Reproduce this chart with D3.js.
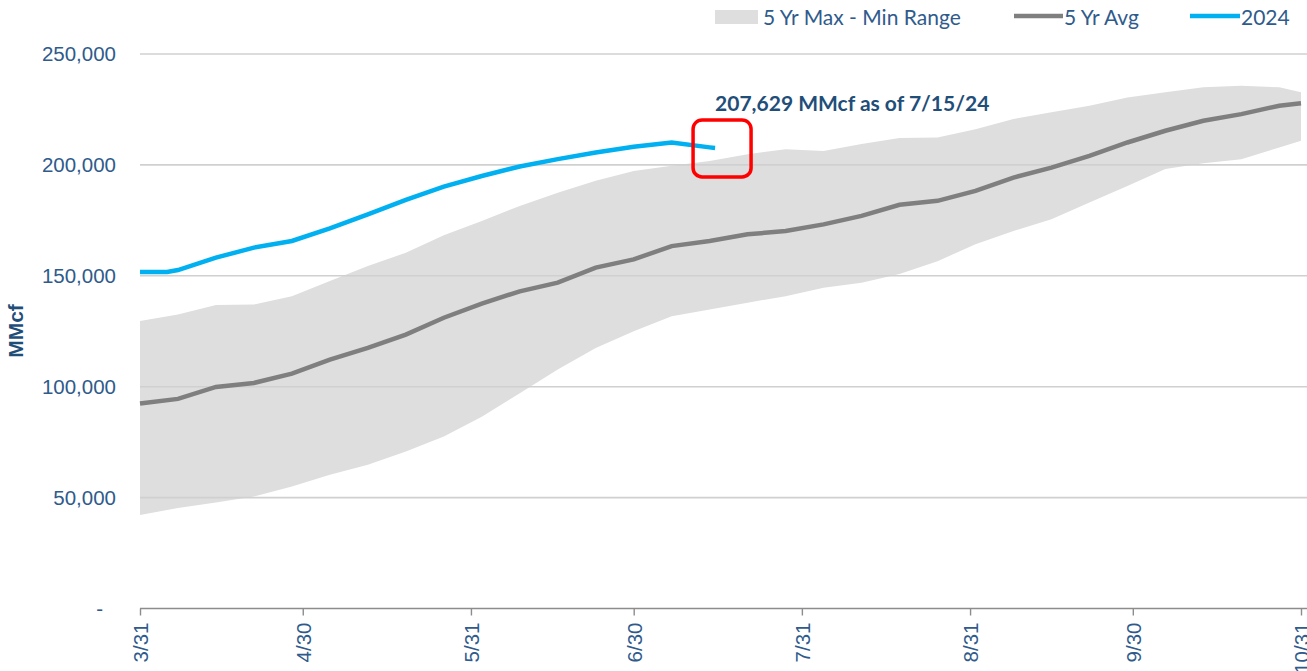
<!DOCTYPE html>
<html lang="en">
    <head>
        <meta charset="utf-8">
        <title>Storage vs 5 Yr Range</title>
        <script type="text/javascript" src="https://cdn.jsdelivr.net/npm/d3@7/dist/d3.min.js"></script>
        <style>
            body { margin: 0; background: #fff; }
            svg { display: block; }
        </style>
    </head>

    <body>
        <script type="text/javascript">

            // weekly dates for the 5 year range and average
            var week_dates = ["2024-03-31", "2024-04-07", "2024-04-14", "2024-04-21", "2024-04-28", "2024-05-05",
                              "2024-05-12", "2024-05-19", "2024-05-26", "2024-06-02", "2024-06-09", "2024-06-16",
                              "2024-06-23", "2024-06-30", "2024-07-07", "2024-07-14", "2024-07-21", "2024-07-28",
                              "2024-08-04", "2024-08-11", "2024-08-18", "2024-08-25", "2024-09-01", "2024-09-08",
                              "2024-09-15", "2024-09-22", "2024-09-29", "2024-10-06", "2024-10-13", "2024-10-20",
                              "2024-10-27", "2024-10-31"];

            // 5 yr max / min / avg (MMcf)
            var range_max = [129600, 132600, 136800, 137100, 140800, 147600, 154400, 160400, 168300, 174700, 181500, 187500,
                             192800, 197300, 199600, 201800, 204800, 207100, 206300, 209400, 212100, 212400, 216100, 220700,
                             223700, 226700, 230400, 232700, 235000, 235700, 235000, 232700];
            var range_min = [42200, 45300, 47800, 50500, 55000, 60300, 64800, 70800, 77600, 86500, 97000, 107800,
                             117500, 125000, 131800, 134800, 137900, 140800, 144600, 146900, 150800, 156600, 164200, 170200,
                             175500, 183000, 190500, 198100, 200800, 202600, 207900, 210900];
            var avg_5yr = [92400, 94500, 99900, 101700, 105900, 112200, 117500, 123500, 131100, 137500, 143000, 146900,
                           153700, 157400, 163400, 165700, 168700, 170200, 173200, 177000, 182000, 183800, 188300, 194300,
                           198800, 204100, 210100, 215400, 219900, 222900, 226700, 227800];

            // 2024 storage (MMcf)
            var dates_2024 = ["2024-03-31", "2024-04-05", "2024-04-07", "2024-04-14", "2024-04-21", "2024-04-28", "2024-05-05",
                              "2024-05-12", "2024-05-19", "2024-05-26", "2024-06-02", "2024-06-09", "2024-06-16",
                              "2024-06-23", "2024-06-30", "2024-07-07", "2024-07-14", "2024-07-15"];
            var storage_2024 = [151700, 151700, 152600, 158200, 162700, 165700, 171400, 177700, 184200, 190200, 195000,
                                199300, 202600, 205600, 208200, 210100, 207900, 207629];

            var x_tick_dates = ["2024-03-31", "2024-04-30", "2024-05-31", "2024-06-30", "2024-07-31", "2024-08-31",
                                "2024-09-30", "2024-10-31"];
            var y_ticks = [0, 50000, 100000, 150000, 200000, 250000];

            var legend_labels = ["5 Yr Max - Min Range", "5 Yr Avg", "2024"];
            var annotation_text = "207,629 MMcf as of 7/15/24";

            var color_band = "#dedede";
            var color_avg = "#7f7f7f";
            var color_2024 = "#00b0f0";
            var color_text = "#2f5b8c";
            var color_title = "#1f4e79";

            // plot area (note: "top" is reserved on window, so use plot_ names)
            var width = 1307, height = 671;
            var plot_left = 140, plot_right = 1301, plot_top = 54, plot_bottom = 608.5;

            var parse = d3.timeParse("%Y-%m-%d");

            var band_data = week_dates.map(function(d, i) {
                return { date: parse(d), max: range_max[i], min: range_min[i], avg: avg_5yr[i] };
            });
            var data_2024 = dates_2024.map(function(d, i) {
                return { date: parse(d), value: storage_2024[i] };
            });

            var x = d3.scaleTime()
                .domain([parse(x_tick_dates[0]), parse(x_tick_dates[x_tick_dates.length - 1])])
                .range([plot_left, plot_right]);
            var y = d3.scaleLinear()
                .domain([0, 250000])
                .range([plot_bottom, plot_top]);

            var svg = d3.select("body")
                .append("svg")
                .attr("width", width)
                .attr("height", height);

            // max - min band
            svg.append("path")
                .datum(band_data)
                .attr("fill", color_band)
                .attr("d", d3.area()
                    .x(function(d) { return x(d.date); })
                    .y0(function(d) { return y(d.min); })
                    .y1(function(d) { return y(d.max); }));

            // horizontal grid lines
            svg.append("g")
                .selectAll("line")
                .data(y_ticks.filter(function(d) { return d > 0; }))
                .enter()
                .append("line")
                .attr("x1", plot_left)
                .attr("x2", width)
                .attr("y1", function(d) { return y(d); })
                .attr("y2", function(d) { return y(d); })
                .attr("stroke", "#d0d0d0")
                .attr("stroke-width", 1.6);

            // y axis labels
            svg.append("g")
                .selectAll("text")
                .data(y_ticks)
                .enter()
                .append("text")
                .attr("x", function(d) { return d === 0 ? 103 : 116; })
                .attr("y", function(d) { return y(d); })
                .attr("dy", "0.35em")
                .attr("text-anchor", "end")
                .attr("fill", color_text)
                .style("font", "20.5px 'Liberation Sans', Arial, sans-serif")
                .text(function(d) { return d === 0 ? "-" : d3.format(",")(d); });

            svg.append("text")
                .attr("transform", "translate(23,331) rotate(-90)")
                .attr("text-anchor", "middle")
                .attr("fill", color_title)
                .style("font", "bold 21px 'Liberation Sans', Arial, sans-serif")
                .text("MMcf");

            // x axis
            var x_axis = svg.append("g")
                .attr("transform", "translate(0," + plot_bottom + ")")
                .call(d3.axisBottom(x)
                    .tickValues(x_tick_dates.map(parse))
                    .tickFormat(d3.timeFormat("%-m/%-d"))
                    .tickSize(7)
                    .tickSizeOuter(0));
            x_axis.select(".domain")
                .attr("d", "M" + plot_left + ",0H" + width)
                .attr("stroke", "#8c8c8c")
                .attr("stroke-width", 1.6);
            x_axis.selectAll(".tick line")
                .attr("stroke", "#8c8c8c")
                .attr("stroke-width", 1.4);
            x_axis.selectAll(".tick text")
                .attr("transform", "rotate(-90)")
                .attr("text-anchor", "end")
                .attr("x", -14)
                .attr("y", 0)
                .attr("dy", "0.36em")
                .attr("fill", color_text)
                .style("font", "20.5px 'Liberation Sans', Arial, sans-serif");

            // 5 yr avg line
            svg.append("path")
                .datum(band_data)
                .attr("fill", "none")
                .attr("stroke", color_avg)
                .attr("stroke-width", 4.5)
                .attr("d", d3.line()
                    .x(function(d) { return x(d.date); })
                    .y(function(d) { return y(d.avg); }));

            // 2024 line
            svg.append("path")
                .datum(data_2024)
                .attr("fill", "none")
                .attr("stroke", color_2024)
                .attr("stroke-width", 4.5)
                .attr("d", d3.line()
                    .x(function(d) { return x(d.date); })
                    .y(function(d) { return y(d.value); }));

            // annotation for the latest value
            var last = data_2024[data_2024.length - 1];
            var last_x = x(last.date), last_y = y(last.value);

            svg.append("rect")
                .attr("x", last_x - 22)
                .attr("y", last_y - 28)
                .attr("width", 58)
                .attr("height", 57)
                .attr("rx", 9)
                .attr("fill", "none")
                .attr("stroke", "#ff0000")
                .attr("stroke-width", 3.5);

            svg.append("text")
                .attr("x", last_x)
                .attr("y", last_y - 37)
                .attr("fill", color_title)
                .style("font", "bold 21px Lato, 'Liberation Sans', sans-serif")
                .text(annotation_text);

            // legend
            var legend = svg.append("g").style("font", "21px Lato, 'Liberation Sans', sans-serif");
            legend.append("rect")
                .attr("x", 715).attr("y", 10).attr("width", 43).attr("height", 14)
                .attr("fill", color_band);
            legend.append("text").attr("x", 763).attr("y", 25).attr("fill", color_text).text(legend_labels[0]);
            legend.append("line")
                .attr("x1", 1014).attr("x2", 1063).attr("y1", 16).attr("y2", 16)
                .attr("stroke", color_avg).attr("stroke-width", 4.5);
            legend.append("text").attr("x", 1064).attr("y", 25).attr("fill", color_text).text(legend_labels[1]);
            legend.append("line")
                .attr("x1", 1190).attr("x2", 1240).attr("y1", 16).attr("y2", 16)
                .attr("stroke", color_2024).attr("stroke-width", 4.5);
            legend.append("text").attr("x", 1241).attr("y", 25).attr("fill", color_text).text(legend_labels[2]);

        </script>
    </body>
</html>
